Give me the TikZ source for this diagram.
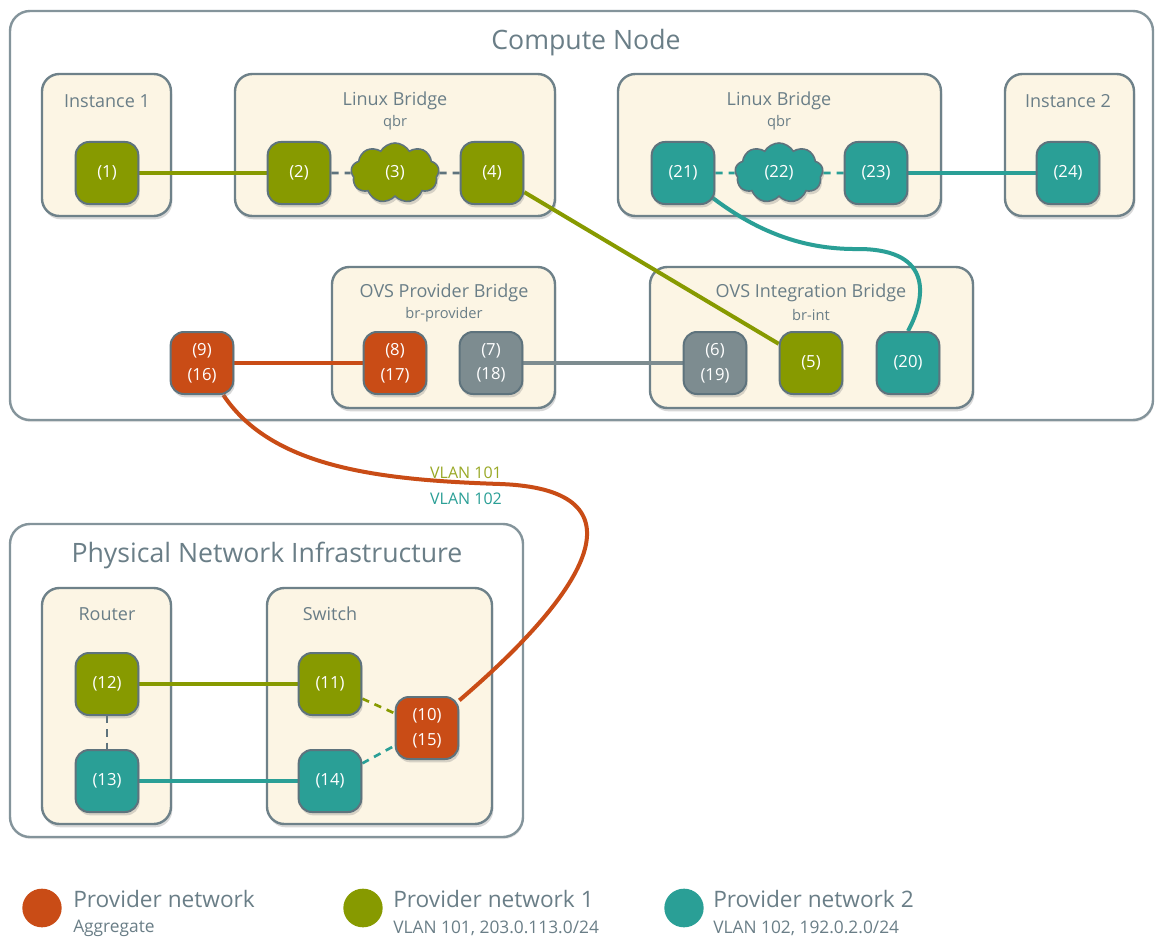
\documentclass[tikz,border=0pt]{standalone}
\usepackage{fontspec}
\setmainfont{Open Sans}
\usetikzlibrary{shapes.symbols,shapes.geometric,shadows}
\definecolor{porange}{HTML}{C94C16}
\definecolor{pgreen}{HTML}{879A00}
\definecolor{pteal}{HTML}{2A9F96}
\definecolor{pgray}{HTML}{7D8C90}
\definecolor{portborder}{HTML}{5E737D}
\definecolor{boxborder}{HTML}{6E8189}
\definecolor{boxfill}{HTML}{FCF5E4}
\definecolor{txtgray}{HTML}{6A7E87}
\pgfdeclarelayer{boxes}
\pgfdeclarelayer{edges}
\pgfsetlayers{boxes,edges,main}
\tikzset{
  shad/.style={drop shadow={shadow xshift=1pt,shadow yshift=-2.5pt,opacity=0.3}},
  port/.style={rounded corners=10pt, minimum width=47pt, minimum height=46.5pt,
    draw=portborder, line width=1.5pt, text=white, align=center,
    font=\fontsize{12.5}{18.5}\selectfont, shad},
  pg/.style={port, fill=pgreen},
  po/.style={port, fill=porange},
  pt/.style={port, fill=pteal},
  pgy/.style={port, fill=pgray},
  cloudport/.style={cloud, cloud puffs=9, cloud puff arc=120, aspect=1.45,
    minimum width=66pt, minimum height=45pt, inner sep=0pt,
    draw=portborder, line width=1.2pt, text=white,
    font=\fontsize{12.5}{15}\selectfont, shad},
  container/.style={draw=boxborder, line width=1.8pt, fill=boxfill, rounded corners=13pt, shad},
  outerbox/.style={draw=boxborder!85, line width=1.8pt, fill=white, rounded corners=15pt,
    drop shadow={shadow xshift=0.5pt,shadow yshift=-1.5pt,opacity=0.2}},
  boxtitle/.style={text=txtgray, font=\fontsize{13.5}{16}\selectfont},
  boxsub/.style={text=txtgray, font=\fontsize{11}{13}\selectfont},
  bigtitle/.style={text=txtgray, font=\fontsize{20}{24}\selectfont},
  wire/.style={line width=3pt},
  dwire/.style={line width=2pt, dash pattern=on 5.5pt off 4.5pt},
  legdot/.style={ellipse, minimum width=29.5pt, minimum height=29pt, inner sep=0pt},
  legmain/.style={text=txtgray, anchor=west, inner sep=0pt, font=\fontsize{17}{20}\selectfont},
  legsub/.style={text=txtgray, anchor=west, inner sep=0pt, font=\fontsize{13}{15}\selectfont},
  vlan/.style={inner sep=0pt, font=\fontsize{12}{14}\selectfont}
}
\begin{document}
\begin{tikzpicture}[x=0.75pt,y=-0.75pt]
\useasboundingbox (0,0) rectangle (1156,938);

% ---------- containers ----------
\begin{pgfonlayer}{boxes}
\fill[white] (0,0) rectangle (1156,938);
\draw[outerbox] (10,11) rectangle (1153,420);
\draw[outerbox] (10,524) rectangle (523,837);
\draw[container] (42,74) rectangle (171,216);
\draw[container] (235,74) rectangle (555,216);
\draw[container] (618,74) rectangle (941,216);
\draw[container] (1005,74) rectangle (1134,216);
\draw[container] (332,267) rectangle (555,408);
\draw[container] (650,267) rectangle (973,408);
\draw[container] (42,588) rectangle (171,824);
\draw[container] (267,588) rectangle (492,824);
\end{pgfonlayer}

% ---------- titles ----------
\node[bigtitle] (tcompute) at (586,43) {Compute Node};
\node[bigtitle] (tphys) at (267,555) {Physical Network Infrastructure};
\node[boxtitle] (tinst1) at (107,101) {Instance 1};
\node[boxtitle] (tlb1) at (395,101) {Linux Bridge};
\node[boxsub] (tqbr1) at (395,123) {qbr};
\node[boxtitle] (tlb2) at (779,101) {Linux Bridge};
\node[boxsub] (tqbr2) at (779,123) {qbr};
\node[boxtitle] (tinst2) at (1068,101) {Instance 2};
\node[boxtitle] (tovsp) at (444,293) {OVS Provider Bridge};
\node[boxsub] (tbrp) at (444,315) {br-provider};
\node[boxtitle] (tovsi) at (811,293) {OVS Integration Bridge};
\node[boxsub] (tbri) at (811,315) {br-int};
\node[boxtitle] (trouter) at (107,614) {Router};
\node[boxtitle] (tswitch) at (330,614) {Switch};

% ---------- ports ----------
\node[pg] (n1) at (107,173) {(1)};
\node[pg] (n2) at (299,173) {(2)};
\node[cloudport, fill=pgreen] (n3) at (395,173) {(3)};
\node[pg] (n4) at (492,173) {(4)};
\node[pt] (n21) at (683,173) {(21)};
\node[cloudport, fill=pteal] (n22) at (779,173) {(22)};
\node[pt] (n23) at (876,173) {(23)};
\node[pt] (n24) at (1068,173) {(24)};
\node[po] (n9) at (202,363) {(9)\\(16)};
\node[po] (n8) at (395,363) {(8)\\(17)};
\node[pgy] (n7) at (491,363) {(7)\\(18)};
\node[pgy] (n6) at (715,363) {(6)\\(19)};
\node[pg] (n5) at (811,363) {(5)};
\node[pt] (n20) at (908,363) {(20)};
\node[pg] (n12) at (107,684) {(12)};
\node[pt] (n13) at (107,781) {(13)};
\node[pg] (n11) at (330,684) {(11)};
\node[pt] (n14) at (330,781) {(14)};
\node[po] (n10) at (427,728) {(10)\\(15)};

% ---------- connectors ----------
\begin{pgfonlayer}{edges}
\draw[wire, pgreen] (n1) -- (n2);
\draw[dwire, portborder] (n2) -- (n3);
\draw[dwire, portborder] (n3) -- (n4);
\draw[wire, pgreen] (n4) -- (n5);
\draw[dwire, pteal] (n21) -- (n22);
\draw[dwire, pteal] (n22) -- (n23);
\draw[wire, pteal] (n23) -- (n24);
\draw[wire, pteal] (n21.center) .. controls (745,230) and (800,250) .. (860,249)
   .. controls (935,250) and (925,300) .. (n20.north);
\draw[wire, porange] (n9) -- (n8);
\draw[wire, pgray] (n7) -- (n6);
\draw[wire, porange] (n9) .. controls (272,468) and (380,480) .. (500,484)
   .. controls (640,489) and (600,580) .. (n10);
\draw[wire, pgreen] (n12) -- (n11);
\draw[wire, pteal] (n13) -- (n14);
\draw[dwire, portborder] (n12) -- (n13);
\draw[dwire, pgreen] (n11) -- (n10);
\draw[dwire, pteal] (n14) -- (n10);
\end{pgfonlayer}

\node[vlan, text=pgreen!85!white] (vl1) at (466,473) {VLAN 101};
\node[vlan, text=pteal] (vl2) at (466,499) {VLAN 102};

% ---------- legend ----------
\node[legdot, fill=porange] (lg1) at (42,908) {};
\node[legdot, fill=pgreen] (lg2) at (363,908) {};
\node[legdot, fill=pteal] (lg3) at (684,908) {};
\node[legmain] (lt1) at (73,899) {Provider network};
\node[legsub] (ls1) at (73,928) {Aggregate};
\node[legmain] (lt2) at (393,899) {Provider network 1};
\node[legsub] (ls2) at (393,928) {VLAN 101, 203.0.113.0/24};
\node[legmain] (lt3) at (713,899) {Provider network 2};
\node[legsub] (ls3) at (713,928) {VLAN 102, 192.0.2.0/24};
\end{tikzpicture}
\end{document}
